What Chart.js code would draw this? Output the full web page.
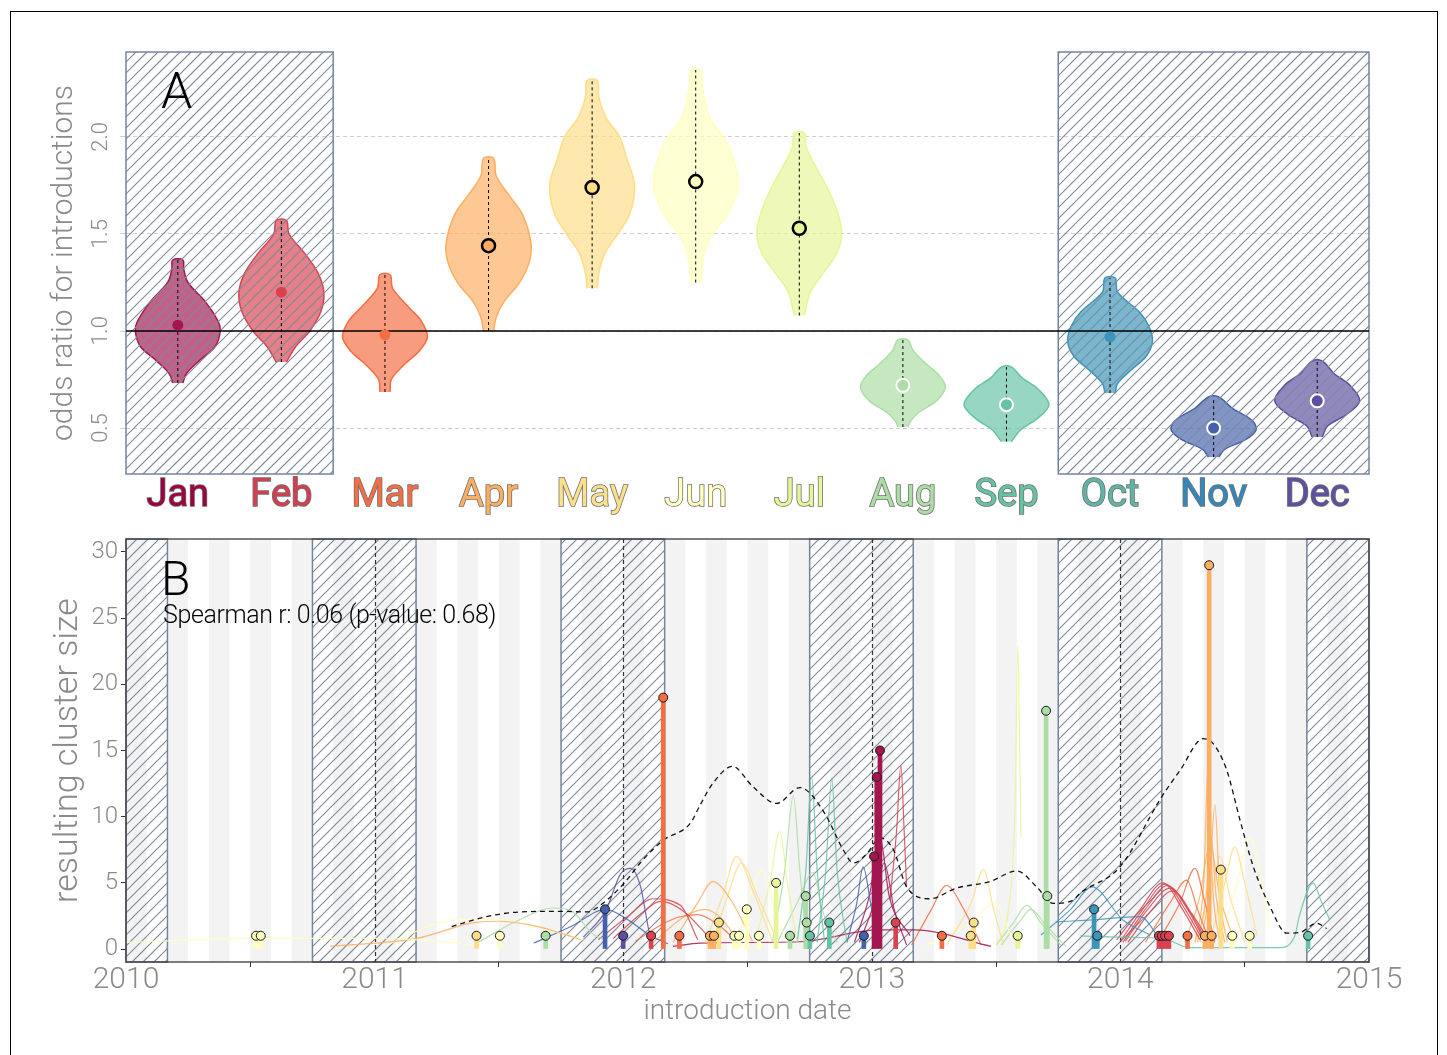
<!DOCTYPE html>
<html>
<head>
<meta charset="utf-8">
<script src="https://cdn.jsdelivr.net/npm/chart.js@4.4.1/dist/chart.umd.min.js"></script>
<style>
  html, body { margin: 0; padding: 0; background: #fff; }
  #page { position: relative; width: 1447px; height: 1055px; overflow: hidden; }
  #frame { position: absolute; left: 10px; top: 11px; width: 1428px; height: 1070px; border: 1px solid #000; box-sizing: border-box; }
  canvas { position: absolute; left: 0; }
  #chartA { top: 0; }
  #chartB { top: 530px; }
</style>
</head>
<body>
<div id="page">
  <div id="frame"></div>
  <canvas id="chartA" width="1447" height="530"></canvas>
  <canvas id="chartB" width="1447" height="525"></canvas>
</div>
<script>
// ---------- panel A data ----------
const months = ["Jan", "Feb", "Mar", "Apr", "May", "Jun", "Jul", "Aug", "Sep", "Oct", "Nov", "Dec"];
const monthColors = ["#a3164f", "#d8434f", "#f46d43", "#fdae61", "#fedd87", "#ffffbf", "#e6f598", "#abdda4", "#66c2a5", "#3a95b9", "#4561ad", "#5e4fa2"];
const labelColors = ["#9e0142", "#d53e4f", "#f46d43", "#fdae61", "#fee08b", "#ffffbf", "#e6f598", "#abdda4", "#66c2a5", "#5db5a5", "#3288bd", "#5e4fa2"];
const oddsMeans = [1.03, 1.20, 0.98, 1.44, 1.74, 1.77, 1.53, 0.72, 0.62, 0.97, 0.50, 0.64];
// "up" = above 1, "down" = below 1, "none" = not significant
const meanSignif = ["none", "none", "none", "up", "up", "up", "up", "down", "down", "none", "down", "down"];
// violin outlines: [odds ratio, relative half width], bottom to top
const violinProfiles = [
  [[0.732, 0.12], [0.78, 0.2], [0.85, 0.52], [0.92, 0.88], [1.0, 1.0], [1.05, 0.95], [1.15, 0.65], [1.25, 0.24], [1.32, 0.14], [1.366, 0.12]],
  [[0.84, 0.12], [0.92, 0.34], [1.0, 0.67], [1.1, 0.93], [1.2, 1.0], [1.3, 0.86], [1.4, 0.55], [1.5, 0.18], [1.57, 0.12]],
  [[0.686, 0.12], [0.75, 0.15], [0.82, 0.42], [0.9, 0.82], [0.97, 1.0], [1.05, 0.86], [1.12, 0.57], [1.22, 0.18], [1.29, 0.12]],
  [[1.0, 0.12], [1.07, 0.18], [1.15, 0.36], [1.25, 0.73], [1.35, 0.95], [1.45, 1.0], [1.6, 0.8], [1.7, 0.48], [1.8, 0.18], [1.89, 0.12]],
  [[1.22, 0.12], [1.3, 0.16], [1.4, 0.3], [1.5, 0.6], [1.6, 0.88], [1.75, 1.0], [1.9, 0.8], [2.0, 0.65], [2.1, 0.33], [2.2, 0.16], [2.29, 0.12]],
  [[1.25, 0.12], [1.4, 0.2], [1.5, 0.4], [1.6, 0.75], [1.75, 1.0], [1.9, 0.87], [2.0, 0.65], [2.1, 0.33], [2.25, 0.16], [2.345, 0.12]],
  [[1.08, 0.12], [1.2, 0.26], [1.3, 0.57], [1.4, 0.88], [1.5, 1.0], [1.62, 0.89], [1.75, 0.63], [1.85, 0.38], [1.95, 0.16], [2.02, 0.12]],
  [[0.505, 0.12], [0.53, 0.16], [0.58, 0.37], [0.64, 0.79], [0.71, 1.0], [0.77, 0.86], [0.83, 0.55], [0.9, 0.24], [0.954, 0.12]],
  [[0.43, 0.12], [0.49, 0.33], [0.55, 0.73], [0.62, 1.0], [0.7, 0.75], [0.76, 0.36], [0.814, 0.12]],
  [[0.68, 0.12], [0.73, 0.18], [0.8, 0.5], [0.87, 0.85], [0.95, 1.0], [1.03, 0.9], [1.1, 0.68], [1.2, 0.18], [1.273, 0.12]],
  [[0.35, 0.12], [0.39, 0.26], [0.44, 0.75], [0.49, 1.0], [0.54, 0.9], [0.6, 0.45], [0.66, 0.12]],
  [[0.454, 0.12], [0.51, 0.24], [0.57, 0.69], [0.64, 1.0], [0.72, 0.77], [0.78, 0.4], [0.845, 0.12]]
];
const violinHalfWidth = 0.41;
const oddsTicks = [0.5, 1.0, 1.5, 2.0];
const refOdds = 1;
const winterMonthsA = [[0.5, 2.5], [9.5, 12.5]];

// ---------- panel B data ----------
const yearTicks = [2010, 2011, 2012, 2013, 2014, 2015];
const yearLines = [2011, 2012, 2013, 2014];
const sizeTicks = [0, 5, 10, 15, 20, 25, 30];
const winterSpansB = [[2010.0, 2010.1667], [2010.75, 2011.1667], [2011.75, 2012.1667], [2012.75, 2013.1667], [2013.75, 2014.1667], [2014.75, 2015.0]];

const introDates = [2010.523, 2010.542, 2011.41, 2011.504, 2011.688, 2011.927, 2012.0, 2012.112, 2012.161, 2012.226,
  2012.349, 2012.365, 2012.385, 2012.447, 2012.466, 2012.497, 2012.546, 2012.615, 2012.671, 2012.734,
  2012.738, 2012.751, 2012.829, 2012.968, 2013.009, 2013.02, 2013.033, 2013.096, 2013.282, 2013.398,
  2013.41, 2013.587, 2013.701, 2013.706, 2013.894, 2013.907, 2014.155, 2014.167, 2014.18, 2014.195,
  2014.27, 2014.34, 2014.357, 2014.367, 2014.404, 2014.45, 2014.52, 2014.755];
const clusterSizes = [1, 1, 1, 1, 1, 3, 1, 1, 19, 1,
  1, 1, 2, 1, 1, 3, 1, 5, 1, 4,
  2, 1, 2, 1, 7, 13, 15, 2, 1, 1,
  2, 1, 18, 4, 3, 1, 1, 1, 1, 1,
  1, 1, 29, 1, 6, 1, 1, 1];
const introMonth = [5, 5, 4, 5, 7, 10, 11, 1, 2, 2,
  3, 3, 4, 5, 5, 5, 5, 6, 7, 7,
  7, 8, 8, 10, 0, 0, 0, 1, 2, 4,
  4, 6, 7, 7, 9, 9, 1, 1, 1, 1,
  2, 3, 3, 3, 4, 5, 5, 8];

const overallDates = [2011.31, 2011.45, 2011.585, 2011.746, 2011.853, 2011.934, 2012.014, 2012.068, 2012.16, 2012.27,
  2012.31, 2012.36, 2012.44, 2012.52, 2012.617, 2012.711, 2012.75, 2012.818, 2012.885, 2012.926,
  2012.98, 2013.033, 2013.087, 2013.14, 2013.234, 2013.34, 2013.475, 2013.583, 2013.663, 2013.73,
  2013.81, 2013.837, 2013.998, 2014.166, 2014.24, 2014.333, 2014.374, 2014.428, 2014.481, 2014.535,
  2014.602, 2014.669, 2014.722, 2014.79, 2014.83];
const overallValues = [1.7, 2.45, 2.8, 2.85, 2.8, 3.7, 5.2, 6.5, 8.2, 9.5,
  10.9, 12.5, 13.8, 12.3, 11.0, 12.2, 11.8, 10.0, 7.5, 6.5,
  7.2, 8.4, 7.5, 4.7, 3.8, 4.6, 5.1, 5.9, 4.7, 3.45,
  3.7, 4.2, 6.2, 11.5, 13.5, 15.9, 15.5, 13.5, 9.75, 6.2,
  3.2, 1.2, 1.25, 1.95, 1.55];

// one thin curve per cluster: month colour and [date, size] points
const curveMonths = [5, 3, 5, 7, 10, 11, 1, 1, 2, 3, 3, 4, 4, 5, 6, 7, 8, 8, 7, 10, 0, 0, 1, 0, 2, 4, 5, 6, 7, 7, 9, 9, 8, 1, 1, 1, 1, 1, 2, 2, 3, 3, 3, 3, 4, 4, 5];
const curvePoints = [
  [[2010.0, 0.5], [2010.5, 0.8], [2011.0, 0.8], [2011.3, 0.5], [2011.42, 0.2]],
  [[2010.82, 0.2], [2011.17, 0.8], [2011.4, 2.0], [2011.5, 2.1], [2011.63, 1.8], [2011.75, 1.2], [2011.83, 0.7]],
  [[2011.05, 0.3], [2011.26, 2.0], [2011.45, 2.3], [2011.55, 2.1], [2011.69, 1.5], [2011.84, 0.7]],
  [[2011.42, 0.55], [2011.56, 2.0], [2011.72, 3.1], [2011.79, 2.9], [2011.88, 1.1], [2011.93, 0.7]],
  [[2011.64, 0.45], [2011.79, 1.7], [2011.93, 3.0], [2012.02, 2.2], [2012.11, 1.0], [2012.18, 0.4]],
  [[2011.84, 0.9], [2011.93, 2.9], [2011.99, 5.7], [2012.03, 6.1], [2012.07, 4.7], [2012.1, 1.7], [2012.11, 0.9]],
  [[2011.9, 0.7], [2012.02, 2.5], [2012.12, 3.8], [2012.23, 3.3], [2012.3, 0.7]],
  [[2011.96, 0.8], [2012.08, 2.8], [2012.15, 3.6], [2012.24, 2.9], [2012.35, 0.8]],
  [[2012.05, 0.6], [2012.15, 1.8], [2012.22, 2.4], [2012.3, 2.6], [2012.37, 2.0], [2012.44, 0.9]],
  [[2012.12, 0.5], [2012.25, 2.5], [2012.33, 3.0], [2012.4, 2.2], [2012.46, 0.6]],
  [[2012.2, 0.5], [2012.3, 3.5], [2012.36, 5.1], [2012.43, 3.8], [2012.52, 0.6]],
  [[2012.33, 0.5], [2012.4, 4.0], [2012.456, 7.0], [2012.52, 4.5], [2012.6, 0.6]],
  [[2012.36, 0.5], [2012.42, 4.0], [2012.476, 6.5], [2012.54, 4.0], [2012.62, 0.6]],
  [[2012.46, 0.5], [2012.51, 4.0], [2012.557, 6.0], [2012.6, 3.5], [2012.66, 0.5]],
  [[2012.53, 0.5], [2012.59, 5.0], [2012.63, 8.9], [2012.66, 5.0], [2012.7, 0.5]],
  [[2012.6, 0.5], [2012.65, 6.0], [2012.684, 11.6], [2012.71, 6.0], [2012.74, 0.5]],
  [[2012.7, 0.5], [2012.735, 6.0], [2012.758, 13.0], [2012.78, 6.0], [2012.81, 0.5]],
  [[2012.78, 0.5], [2012.815, 6.0], [2012.839, 12.9], [2012.86, 6.0], [2012.9, 0.5]],
  [[2012.62, 0.5], [2012.7, 3.5], [2012.764, 5.8], [2012.8, 3.0], [2012.86, 0.5]],
  [[2012.9, 0.5], [2012.94, 3.5], [2012.965, 6.2], [2013.0, 3.0], [2013.04, 0.3]],
  [[2012.93, 0.5], [2012.99, 4.0], [2013.033, 8.4], [2013.07, 4.0], [2013.154, 1.0]],
  [[2012.95, 0.5], [2013.01, 3.5], [2013.05, 6.5], [2013.09, 3.0], [2013.14, 0.3]],
  [[2013.073, 3.7], [2013.1, 9.0], [2013.117, 13.9], [2013.13, 9.0], [2013.14, 4.7]],
  [[2012.2, 0.2], [2012.31, 0.45], [2012.71, 0.55], [2013.03, 1.45], [2013.17, 1.45], [2013.48, 0.2]],
  [[2013.16, 0.3], [2013.24, 3.0], [2013.3, 4.8], [2013.37, 3.0], [2013.44, 0.3]],
  [[2013.3, 0.3], [2013.4, 3.5], [2013.449, 6.0], [2013.49, 3.0], [2013.53, 0.3]],
  [[2013.22, 0.3], [2013.4, 2.0], [2013.496, 3.5], [2013.55, 1.5], [2013.58, 0.3]],
  [[2013.5, 0.3], [2013.55, 3.0], [2013.575, 10.0], [2013.588, 22.9], [2013.595, 15.0], [2013.6, 8.4]],
  [[2013.5, 0.3], [2013.57, 2.0], [2013.623, 3.3], [2013.68, 2.0], [2013.76, 0.3]],
  [[2013.52, 0.3], [2013.6, 2.2], [2013.64, 3.0], [2013.7, 1.8], [2013.78, 0.2]],
  [[2013.68, 1.05], [2013.8, 3.0], [2013.885, 4.7], [2014.01, 2.2], [2014.12, 1.05]],
  [[2013.74, 2.05], [2013.89, 2.2], [2014.08, 2.45], [2014.16, 0.7]],
  [[2013.84, 1.0], [2014.0, 0.9], [2014.17, 0.8], [2014.28, 0.1], [2014.64, 0.1], [2014.7, 0.9], [2014.72, 2.5], [2014.775, 5.0], [2014.81, 3.5], [2014.843, 2.2]],
  [[2013.985, 0.7], [2014.08, 3.0], [2014.17, 5.0], [2014.25, 3.0], [2014.32, 0.7]],
  [[2014.0, 0.6], [2014.09, 3.0], [2014.18, 4.9], [2014.26, 3.0], [2014.33, 0.7]],
  [[2014.01, 0.5], [2014.1, 3.0], [2014.19, 4.8], [2014.27, 3.0], [2014.34, 0.6]],
  [[2014.02, 0.6], [2014.11, 3.0], [2014.2, 4.6], [2014.28, 2.8], [2014.35, 0.5]],
  [[2014.03, 0.5], [2014.12, 2.8], [2014.21, 4.4], [2014.29, 2.6], [2014.36, 0.5]],
  [[2014.1, 0.5], [2014.2, 3.5], [2014.267, 5.2], [2014.31, 3.0], [2014.36, 0.5]],
  [[2014.15, 0.5], [2014.24, 3.5], [2014.3, 6.1], [2014.34, 3.5], [2014.38, 0.5]],
  [[2014.3, 0.5], [2014.335, 5.0], [2014.353, 14.0], [2014.37, 5.0], [2014.4, 0.5]],
  [[2014.32, 0.5], [2014.355, 4.0], [2014.38, 10.9], [2014.4, 4.0], [2014.43, 0.5]],
  [[2014.26, 0.5], [2014.32, 4.0], [2014.36, 7.9], [2014.4, 4.0], [2014.46, 0.5]],
  [[2014.31, 0.5], [2014.345, 4.0], [2014.365, 8.5], [2014.385, 4.0], [2014.42, 0.5]],
  [[2014.3, 0.5], [2014.37, 4.5], [2014.4, 7.0], [2014.44, 4.0], [2014.5, 0.5]],
  [[2014.36, 0.5], [2014.42, 5.0], [2014.46, 7.7], [2014.5, 5.0], [2014.55, 1.0]],
  [[2014.4, 0.5], [2014.47, 5.0], [2014.52, 8.4], [2014.56, 6.0], [2014.6, 1.6]]
];

// ---------- helpers ----------
function rgba(hex, a) {
  const n = parseInt(hex.slice(1), 16);
  return `rgba(${(n >> 16) & 255}, ${(n >> 8) & 255}, ${n & 255}, ${a})`;
}

function hatchRect(ctx, x0, x1, top, bottom) {
  const h = bottom - top;
  ctx.save();
  ctx.beginPath();
  ctx.rect(x0, top, x1 - x0, h);
  ctx.clip();
  ctx.strokeStyle = "#7d8b9d";
  ctx.lineWidth = 1.15;
  ctx.beginPath();
  const start = Math.floor((x0 - h) / 11) * 11;
  for (let x = start; x < x1; x += 11) {
    ctx.moveTo(x, bottom);
    ctx.lineTo(x + h, top);
  }
  ctx.stroke();
  ctx.restore();
  ctx.save();
  ctx.strokeStyle = "#74849a";
  ctx.lineWidth = 1.5;
  ctx.strokeRect(x0, top, x1 - x0, h);
  ctx.restore();
}

// drop the half-label padding Chart.js reserves above/below the y ticks
function fixWidth(w) {
  return s => { s.width = w; s.paddingTop = 0; s.paddingBottom = 0; };
}

Chart.defaults.font.family = "Roboto, 'Liberation Sans', sans-serif";
Chart.defaults.font.weight = "300";
Chart.defaults.animation = false;

// ---------- panel A ----------
const violinSets = violinProfiles.map((prof, i) => {
  const cx = i + 1;
  const right = prof.map(([v, w]) => ({ x: cx + w * violinHalfWidth, y: v }));
  const left = prof.slice().reverse().map(([v, w]) => ({ x: cx - w * violinHalfWidth, y: v }));
  return {
    data: right.concat(left),
    borderColor: monthColors[i],
    backgroundColor: rgba(monthColors[i], 0.68),
    borderWidth: 1.5,
    fill: "shape",
    tension: 0.35,
    pointRadius: 0,
    order: 3
  };
});

const rangeSets = violinProfiles.map((prof, i) => ({
  data: [{ x: i + 1, y: prof[0][0] }, { x: i + 1, y: prof[prof.length - 1][0] }],
  borderColor: "#000",
  borderWidth: 1,
  borderDash: [3, 3],
  pointRadius: 0,
  fill: false,
  order: 1
}));

const refSet = {
  data: [{ x: 0.5, y: refOdds }, { x: 12.5, y: refOdds }],
  borderColor: "#000",
  borderWidth: 1.6,
  pointRadius: 0,
  fill: false,
  order: 2
};

const meanSet = {
  data: oddsMeans.map((v, i) => ({ x: i + 1, y: v })),
  showLine: false,
  pointRadius: meanSignif.map(s => s === "none" ? 5.5 : 6.5),
  pointBackgroundColor: monthColors,
  pointBorderColor: meanSignif.map((s, i) => s === "up" ? "#000" : s === "down" ? "#fff" : monthColors[i]),
  pointBorderWidth: meanSignif.map(s => s === "up" ? 2.5 : s === "down" ? 2 : 0),
  order: 0
};

const panelAPlugin = {
  id: "panelA",
  afterDatasetDraw(chart, args) {
    if (args.index !== 0) return;
    const { ctx, chartArea, scales } = chart;
    winterMonthsA.forEach(([a, b]) => {
      hatchRect(ctx, scales.x.getPixelForValue(a), scales.x.getPixelForValue(b), chartArea.top, chartArea.bottom);
    });
  },
  afterDraw(chart) {
    const { ctx, scales } = chart;
    ctx.save();
    ctx.fillStyle = "#8a8a8a";
    ctx.font = "300 22px Roboto";
    ctx.textAlign = "center";
    ctx.textBaseline = "middle";
    oddsTicks.forEach(v => {
      ctx.save();
      ctx.translate(101, scales.y.getPixelForValue(v));
      ctx.rotate(-Math.PI / 2);
      ctx.fillText(v.toFixed(1), 0, 0);
      ctx.restore();
    });
    ctx.fillStyle = "#000";
    ctx.font = "300 50px Roboto";
    ctx.textAlign = "left";
    ctx.textBaseline = "alphabetic";
    ctx.fillText("A", 161, 108);
    ctx.restore();
  }
};

new Chart(document.getElementById("chartA"), {
  type: "line",
  data: { datasets: [...violinSets, refSet, ...rangeSets, meanSet] },
  options: {
    responsive: false,
    devicePixelRatio: 1,
    events: [],
    layout: { padding: { left: 0, right: 78, top: 52, bottom: 0 } },
    plugins: { legend: { display: false }, tooltip: { enabled: false } },
    scales: {
      x: {
        type: "linear",
        min: 0.5,
        max: 12.5,
        offset: false,
        afterBuildTicks: s => { s.ticks = months.map((m, i) => ({ value: i + 1 })); },
        afterFit: s => { s.height = 56; },
        grid: { display: false, drawTicks: false },
        border: { display: false },
        ticks: {
          padding: 0,
          autoSkip: false,
          maxRotation: 0,
          callback: v => months[Math.round(v) - 1],
          color: c => labelColors[c.index],
          textStrokeColor: "#707070",
          textStrokeWidth: 1.6,
          font: { size: 38, weight: "400" }
        }
      },
      y: {
        type: "linear",
        min: 0.263,
        max: 2.438,
        afterBuildTicks: s => { s.ticks = oddsTicks.map(v => ({ value: v })); },
        afterFit: fixWidth(126),
        grid: { color: "#cfcfcf", lineWidth: 1, drawTicks: true, tickLength: 6 },
        border: { display: false, dash: [4, 3] },
        ticks: { display: false },
        title: {
          display: true,
          text: "odds ratio for introductions",
          color: "#8a8a8a",
          font: { size: 30, weight: "300" },
          padding: { top: 46, bottom: 0 }
        }
      }
    }
  },
  plugins: [panelAPlugin]
});

// ---------- panel B ----------
const curveSets = curvePoints.map((pts, i) => ({
  data: pts.map(([d, v]) => ({ x: d, y: v })),
  borderColor: rgba(monthColors[curveMonths[i]], 0.85),
  borderWidth: 1.2,
  pointRadius: 0,
  fill: false,
  cubicInterpolationMode: "monotone",
  order: 3
}));

const overallSet = {
  data: overallDates.map((d, i) => ({ x: d, y: overallValues[i] })),
  borderColor: "#111",
  borderWidth: 1.3,
  borderDash: [5, 4],
  pointRadius: 0,
  fill: false,
  cubicInterpolationMode: "monotone",
  order: 2
};

const stemSet = {
  type: "bar",
  data: introDates.map((d, i) => ({ x: d, y: clusterSizes[i] })),
  backgroundColor: introMonth.map(m => monthColors[m]),
  barThickness: 4,
  grouped: false,
  order: 1
};

const dotSet = {
  data: introDates.map((d, i) => ({ x: d, y: clusterSizes[i] })),
  showLine: false,
  pointRadius: 4.5,
  pointBackgroundColor: introMonth.map(m => monthColors[m]),
  pointBorderColor: "#1a1a1a",
  pointBorderWidth: 1,
  order: 0
};

const panelBPlugin = {
  id: "panelB",
  beforeDatasetsDraw(chart) {
    const { ctx, chartArea, scales } = chart;
    const x = scales.x;
    ctx.save();
    ctx.fillStyle = "#f3f3f3";
    for (let yr = 2010; yr < 2015; yr++) {
      for (let m = 0; m < 12; m += 2) {
        const a = x.getPixelForValue(yr + m / 12);
        const b = x.getPixelForValue(yr + (m + 1) / 12);
        ctx.fillRect(a, chartArea.top, b - a, chartArea.bottom - chartArea.top);
      }
    }
    ctx.restore();
    winterSpansB.forEach(([a, b]) => {
      hatchRect(ctx, x.getPixelForValue(a), x.getPixelForValue(b), chartArea.top, chartArea.bottom);
    });
    ctx.save();
    ctx.strokeStyle = "#333";
    ctx.lineWidth = 1.2;
    ctx.setLineDash([4, 3]);
    yearLines.forEach(yr => {
      const px = Math.round(x.getPixelForValue(yr)) + 0.5;
      ctx.beginPath();
      ctx.moveTo(px, chartArea.top);
      ctx.lineTo(px, chartArea.bottom);
      ctx.stroke();
    });
    ctx.restore();
  },
  afterDraw(chart) {
    const { ctx, chartArea } = chart;
    ctx.save();
    ctx.strokeStyle = "#3a3a3a";
    ctx.lineWidth = 1.3;
    ctx.strokeRect(chartArea.left, chartArea.top, chartArea.right - chartArea.left, chartArea.bottom - chartArea.top);
    ctx.fillStyle = "#000";
    ctx.font = "300 48px Roboto";
    ctx.fillText("B", 161, 595 - 530);
    ctx.font = "300 25px Roboto";
    ctx.letterSpacing = "-0.4px";
    ctx.fillText("Spearman r: 0.06 (p-value: 0.68)", 163, 623 - 530);
    ctx.restore();
  }
};

new Chart(document.getElementById("chartB"), {
  type: "line",
  data: { datasets: [...curveSets, overallSet, stemSet, dotSet] },
  options: {
    responsive: false,
    devicePixelRatio: 1,
    events: [],
    layout: { padding: { left: 0, right: 78, top: 9, bottom: 0 } },
    plugins: { legend: { display: false }, tooltip: { enabled: false } },
    scales: {
      x: {
        type: "linear",
        min: 2010,
        max: 2015,
        offset: false,
        afterBuildTicks: s => { s.ticks = yearTicks.map(v => ({ value: v })); },
        afterFit: s => { s.height = 93; },
        grid: { display: true, drawOnChartArea: false, drawTicks: true, tickLength: 5, color: "#333" },
        border: { display: false },
        ticks: {
          padding: -5,
          maxRotation: 0,
          autoSkip: false,
          callback: v => String(v),
          color: "#8a8a8a",
          font: { size: 30, weight: "300" }
        },
        title: {
          display: true,
          text: "introduction date",
          color: "#8a8a8a",
          font: { size: 28, weight: "300" },
          padding: { top: 0, bottom: 26 }
        }
      },
      y: {
        type: "linear",
        min: -0.98,
        max: 30.98,
        afterBuildTicks: s => { s.ticks = sizeTicks.map(v => ({ value: v })); },
        afterFit: fixWidth(126),
        grid: { display: true, drawOnChartArea: false, drawTicks: true, tickLength: 5, color: "#333" },
        border: { display: false },
        ticks: {
          padding: 3,
          callback: v => String(v),
          color: "#8a8a8a",
          font: { size: 24, weight: "300" }
        },
        title: {
          display: true,
          text: "resulting cluster size",
          color: "#8a8a8a",
          font: { size: 34, weight: "300" },
          padding: { top: 48, bottom: 0 }
        }
      }
    }
  },
  plugins: [panelBPlugin]
});
</script>
</body>
</html>
